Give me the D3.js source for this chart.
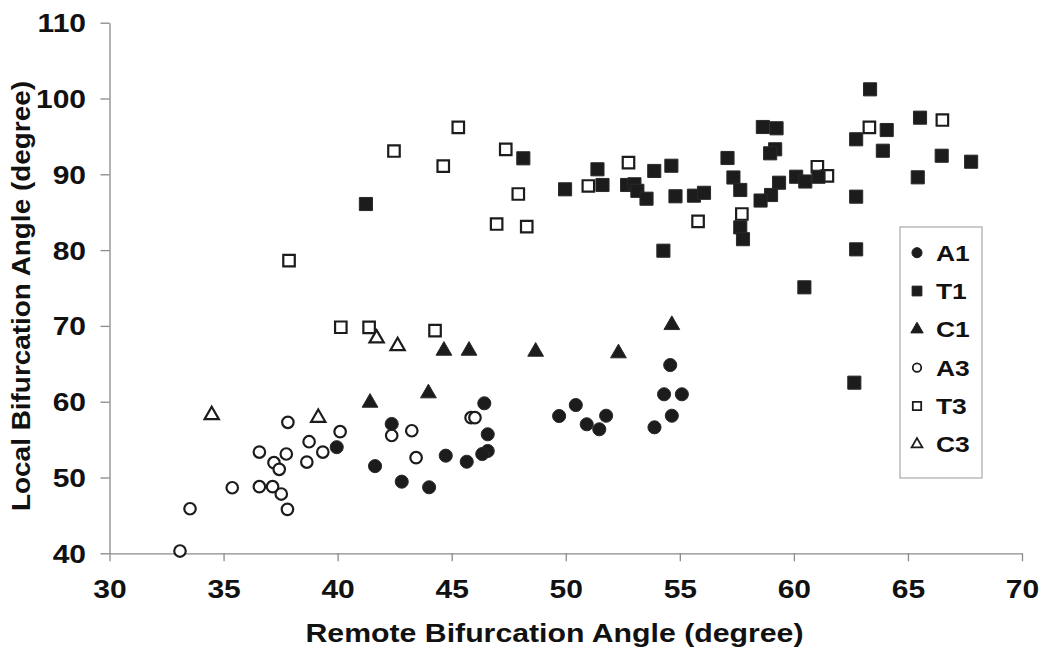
<!DOCTYPE html>
<html>
<head>
<meta charset="utf-8">
<script src="https://cdn.jsdelivr.net/npm/d3@7"></script>
<style>
  html, body { margin: 0; padding: 0; background: #fff; }
  svg { display: block; }
  text { font-family: "Liberation Sans", Arial, Helvetica, sans-serif; font-weight: bold; fill: #111; }
</style>
</head>
<body>
<svg id="chart" width="1044" height="651"></svg>
<script>
// ---- data ----
const xTicks = [30, 35, 40, 45, 50, 55, 60, 65, 70];
const yTicks = [40, 50, 60, 70, 80, 90, 100, 110];
const seriesNames = ["A1", "T1", "C1", "A3", "T3", "C3"];
const xTitle = "Remote Bifurcation Angle (degree)";
const yTitle = "Local Bifurcation Angle (degree)";

const A1 = [[39.96,54.0],[41.64,51.5],[42.37,57.06],[42.81,49.45],[44.01,48.71],[44.74,52.88],
  [45.66,52.08],[46.43,59.79],[46.58,55.7],[46.58,53.5],[46.34,53.1],[49.71,58.11],[50.44,59.56],
  [50.92,57.02],[51.47,56.36],[51.77,58.15],[53.89,56.62],[54.31,60.98],[55.09,60.98],[54.65,58.15],
  [54.58,64.84]];
const T1 = [[41.24,86.08],[48.14,92.11],[49.97,88.02],[51.39,90.66],[51.61,88.59],[52.69,88.59],
  [53.01,88.68],[53.14,87.82],[53.54,86.78],[53.88,90.44],[54.63,91.13],[54.81,87.1],[55.62,87.18],
  [56.06,87.56],[57.09,92.15],[57.35,89.58],[57.65,87.93],[57.65,83.0],[57.77,81.44],[58.64,96.24],
  [59.24,96.07],[59.18,93.3],[58.96,92.77],[59.35,88.89],[59.0,87.27],[58.54,86.54],[60.1,89.68],
  [60.5,89.05],[61.08,89.68],[62.73,94.62],[63.34,101.21],[64.07,95.84],[63.9,93.11],[65.53,97.47],
  [66.48,92.45],[67.77,91.66],[65.43,89.6],[62.73,87.05],[62.73,80.1],[54.28,79.92],[60.46,75.09],
  [62.65,62.51]];
const C1 = [[41.42,59.87],[43.98,61.11],[44.66,66.73],[45.76,66.73],[48.68,66.6],[52.31,66.39],[54.65,70.12]];
const A3 = [[33.09,40.3],[33.53,45.88],[35.38,48.65],[36.57,48.79],[37.15,48.79],[37.53,47.82],
  [37.8,45.8],[36.57,53.36],[37.21,51.95],[37.44,51.08],[37.75,53.1],[37.82,57.28],[38.65,52.04],
  [38.75,54.72],[39.35,53.36],[40.11,56.04],[42.37,55.54],[43.25,56.17],[43.44,52.61],[45.85,57.89],
  [46.02,57.89]];
const T3 = [[37.87,78.6],[40.14,69.82],[41.38,69.8],[44.27,69.37],[42.47,93.07],[44.63,91.09],
  [45.29,96.2],[47.37,93.3],[47.92,87.4],[46.97,83.44],[48.29,83.09],[50.99,88.46],[52.75,91.53],
  [55.8,83.8],[57.72,84.76],[61.03,91.0],[61.47,89.78],[63.31,96.2],[66.51,97.16]];
const C3 = [[34.48,58.25],[39.15,57.89],[41.71,68.36],[42.63,67.35]];

// ---- layout / style ----
const SX = 1.2; // horizontal stretch of glyphs seen in the reference
const svg = d3.select("#chart");
const x = d3.scaleLinear().domain([30, 70]).range([109.5, 1022]);
const y = d3.scaleLinear().domain([40, 110]).range([553.3, 22.7]);
const axisColor = "#8a8a8a";
const dark = "#1c1c1c";

const styles = {
  A1: { type: d3.symbolCircle, size: 135, filled: true },
  T1: { type: d3.symbolSquare, size: 172, filled: true },
  C1: { type: d3.symbolTriangle, size: 108, filled: true },
  A3: { type: d3.symbolCircle, size: 104, filled: false },
  T3: { type: d3.symbolSquare, size: 132, filled: false },
  C3: { type: d3.symbolTriangle, size: 88, filled: false }
};
const legendStyles = { A1: 80, T1: 95, C1: 66, A3: 56, T3: 70, C3: 50 };
const dataBy = { A1, T1, C1, A3, T3, C3 };

// ---- axes ----
const yAxis = svg.append("g").attr("transform", `translate(${x(30)},0)`)
  .call(d3.axisLeft(y).tickValues(yTicks).tickSize(9).tickSizeOuter(0).tickPadding(0));
const xAxis = svg.append("g").attr("transform", `translate(0,${y(40)})`)
  .call(d3.axisBottom(x).tickValues(xTicks).tickSize(8).tickSizeOuter(0).tickPadding(0));

[yAxis, xAxis].forEach(g => {
  g.select(".domain").attr("stroke", axisColor).attr("stroke-width", 1.3);
  g.selectAll(".tick line").attr("stroke", axisColor).attr("stroke-width", 1.3);
  g.selectAll(".tick text").attr("font-size", 25).attr("fill", "#111")
    .attr("font-family", '"Liberation Sans", Arial, sans-serif').attr("font-weight", "bold");
});
yAxis.selectAll(".tick text")
  .attr("x", -23.5 / SX).attr("dy", "0.36em")
  .attr("transform", `scale(${SX},1)`);
xAxis.selectAll(".tick text")
  .attr("y", 45).attr("dy", "0")
  .attr("transform", `scale(${SX},1)`)
  .attr("x", 0);

// ---- titles ----
svg.append("text").attr("x", 554.5).attr("y", 642).attr("text-anchor", "middle")
  .attr("font-size", 25).attr("textLength", 498).attr("lengthAdjust", "spacingAndGlyphs")
  .text(xTitle);
svg.append("text").attr("transform", "translate(29.5,296) rotate(-90)")
  .attr("text-anchor", "middle")
  .attr("font-size", 25).attr("textLength", 430).attr("lengthAdjust", "spacingAndGlyphs")
  .text(yTitle);

// ---- points (open series underneath filled ones) ----
const drawOrder = ["A3", "T3", "C3", "A1", "T1", "C1"];
drawOrder.forEach(name => {
  const st = styles[name];
  const sym = d3.symbol().type(st.type).size(st.size);
  svg.append("g").selectAll("path").data(dataBy[name]).join("path")
    .attr("d", sym)
    .attr("transform", d => `translate(${x(d[0])},${y(d[1])})`)
    .attr("fill", st.filled ? dark : "#fff")
    .attr("stroke", st.filled ? "#2a2a2a" : dark)
    .attr("stroke-width", st.filled ? 1 : 2.2);
});

// ---- legend ----
const lg = svg.append("g");
lg.append("rect").attr("x", 900).attr("y", 227).attr("width", 82).attr("height", 251)
  .attr("fill", "#fff").attr("stroke", "#a8a8a8").attr("stroke-width", 1.2);
const rowY = d3.scaleLinear().domain([0, 5]).range([252.7, 444.3]);
seriesNames.forEach((name, i) => {
  const st = styles[name];
  const cy = rowY(i);
  lg.append("path")
    .attr("d", d3.symbol().type(st.type).size(legendStyles[name])())
    .attr("transform", `translate(917,${cy})`)
    .attr("fill", st.filled ? dark : "#fff")
    .attr("stroke", dark)
    .attr("stroke-width", st.filled ? 1 : 1.8);
  lg.append("text")
    .attr("transform", `translate(936,${cy}) scale(${SX},1)`)
    .attr("dy", "0.36em").attr("font-size", 22)
    .text(name);
});
</script>
</body>
</html>
